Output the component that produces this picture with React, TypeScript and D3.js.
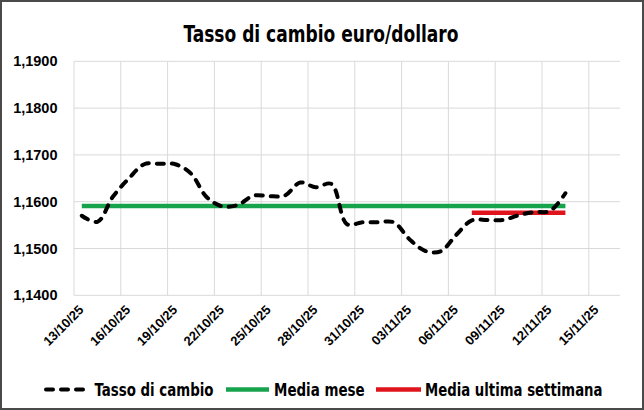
import React from "react";
import * as d3 from "d3";

const dates: string[] = [
  "2025-10-13","2025-10-14","2025-10-15","2025-10-16","2025-10-17","2025-10-18","2025-10-19",
  "2025-10-20","2025-10-21","2025-10-22","2025-10-23","2025-10-24","2025-10-25","2025-10-26",
  "2025-10-27","2025-10-28","2025-10-29","2025-10-30","2025-10-31","2025-11-01","2025-11-02",
  "2025-11-03","2025-11-04","2025-11-05","2025-11-06","2025-11-07","2025-11-08","2025-11-09",
  "2025-11-10","2025-11-11","2025-11-12","2025-11-13",
];
const rates: number[] = [
  1.1570, 1.1557, 1.1611, 1.1649, 1.1680, 1.1681, 1.1680,
  1.1660, 1.1610, 1.1590, 1.1593, 1.1613, 1.1612, 1.1613,
  1.1641, 1.1631, 1.1638, 1.1552, 1.1556, 1.1556, 1.1556,
  1.1520, 1.1495, 1.1494, 1.1529, 1.1560, 1.1561, 1.1561,
  1.1571, 1.1578, 1.1580, 1.1618,
];
const monthAvg = 1.1591;
const weekAvg = 1.15765;
const weekStart = "2025-11-07";
const yTicks: number[] = [1.14, 1.15, 1.16, 1.17, 1.18, 1.19];
const xTickDates: string[] = [
  "2025-10-13","2025-10-16","2025-10-19","2025-10-22","2025-10-25","2025-10-28",
  "2025-10-31","2025-11-03","2025-11-06","2025-11-09","2025-11-12","2025-11-15",
];
const xDomain: string[] = ["2025-10-13", "2025-11-17"];
const title = "Tasso di cambio euro/dollaro";
const legendLabels: string[] = ["Tasso di cambio", "Media mese", "Media ultima settimana"];

const parse = d3.timeParse("%Y-%m-%d");
const fmt = d3.timeFormat("%d/%m/%y");
const yFmt = (v: number) => d3.format(".4f")(v).replace(".", ",");

export default function App() {
  const W = 644, H = 410;
  const left = 74, right = 620, top = 61.3, bottom = 295.3;
  const d0 = parse(xDomain[0])!, d1 = parse(xDomain[1])!;
  const x = d3.scaleTime().domain([d0, d1]).range([left, right]);
  const y = d3.scaleLinear().domain([1.14, 1.19]).range([bottom, top]);
  const mid = (s: string) => d3.timeHour.offset(parse(s)!, 12);
  const pts = dates.map((d, i) => ({ d: mid(d), v: rates[i] }));
  const line = d3.line<{ d: Date; v: number }>()
    .x(p => x(p.d)).y(p => y(p.v)).curve(d3.curveCatmullRom.alpha(0.5));
  const xTicks = xTickDates.map(s => parse(s)!);
  const lastD = mid(dates[dates.length - 1]);
  const firstD = mid(dates[0]);
  const wkD = mid(weekStart);
  const green = "#17a24c";
  const red = "#e0141c";
  const font = "'Liberation Sans Narrow', 'DejaVu Sans Condensed', sans-serif";
  const legY = 389.6;

  return (
    <svg width={W} height={H} style={{ position: "absolute", left: 0, top: 0, background: "#fff" }}>
      <rect x={0} y={0} width={W} height={H} fill="#fff" />
      <rect x={1} y={1} width={W - 2} height={H - 2} fill="none" stroke="#4a4a4a" strokeWidth={2} />
      <text x={321} y={41.5} textAnchor="middle" fontFamily={font} fontWeight="bold" fontSize={23}
        textLength={275} lengthAdjust="spacingAndGlyphs" fill="#000">{title}</text>
      {yTicks.map(t => (
        <g key={t}>
          <line x1={left} x2={right} y1={y(t)} y2={y(t)} stroke="#d9d9d9" strokeWidth={1} />
          <text x={57.5} y={y(t) + 5} textAnchor="end" fontFamily="'Liberation Sans', Arial, sans-serif"
            fontWeight="bold" fontSize={14.5} fill="#000">{yFmt(t)}</text>
        </g>
      ))}
      {xTicks.map(t => (
        <g key={t.getTime()}>
          <line x1={x(t)} x2={x(t)} y1={top} y2={bottom} stroke="#d9d9d9" strokeWidth={1} />
          <text transform={`translate(${x(t) + 4},${bottom + 9}) rotate(-45)`} textAnchor="end"
            dy="0.7em" fontFamily="'Liberation Sans', Arial, sans-serif" fontWeight="bold" fontSize={13} fill="#000">
            {fmt(t)}
          </text>
        </g>
      ))}
      <line x1={x(firstD)} x2={x(lastD)} y1={y(monthAvg)} y2={y(monthAvg)} stroke={green} strokeWidth={4.5} />
      <line x1={x(wkD)} x2={x(lastD)} y1={y(weekAvg)} y2={y(weekAvg)} stroke={red} strokeWidth={4.5} />
      <path d={line(pts) || ""} fill="none" stroke="#000" strokeWidth={4} strokeDasharray="7 8"
        strokeLinecap="round" />
      <line x1={46} x2={86} y1={legY} y2={legY} stroke="#000" strokeWidth={4} strokeDasharray="7 8" strokeLinecap="round" />
      <text x={94.5} y={395.7} fontFamily={font} fontWeight="bold" fontSize={18} textLength={119}
        lengthAdjust="spacingAndGlyphs">{legendLabels[0]}</text>
      <line x1={226} x2={269} y1={legY} y2={legY} stroke={green} strokeWidth={4.5} />
      <text x={274} y={395.7} fontFamily={font} fontWeight="bold" fontSize={18} textLength={90.7}
        lengthAdjust="spacingAndGlyphs">{legendLabels[1]}</text>
      <line x1={376} x2={421} y1={legY} y2={legY} stroke={red} strokeWidth={4.5} />
      <text x={425} y={395.7} fontFamily={font} fontWeight="bold" fontSize={18} textLength={177.5}
        lengthAdjust="spacingAndGlyphs">{legendLabels[2]}</text>
    </svg>
  );
}
